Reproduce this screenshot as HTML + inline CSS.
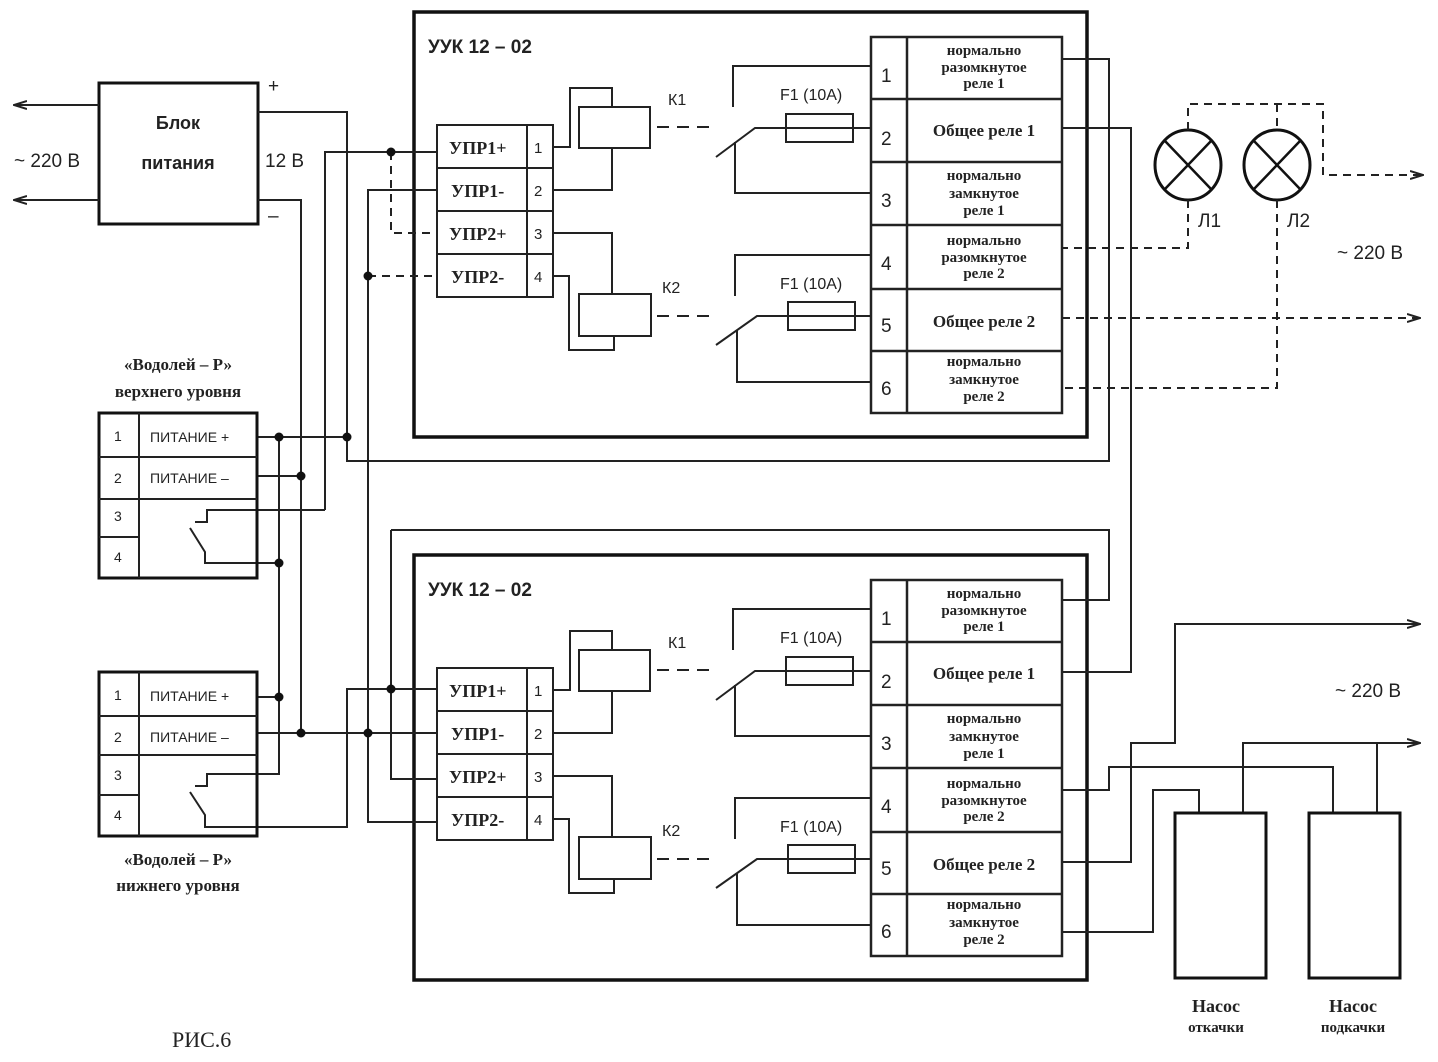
<!DOCTYPE html>
<html><head><meta charset="utf-8"><style>
html,body{margin:0;padding:0;background:#fff;}
svg{display:block;}
.s{font-family:"Liberation Sans","DejaVu Sans",sans-serif;}
.b{font-family:"Liberation Serif","DejaVu Serif",serif;font-weight:bold;}
</style></head><body>
<svg width="1438" height="1062" viewBox="0 0 1438 1062" xmlns="http://www.w3.org/2000/svg">
<defs>
<marker id="a" markerWidth="14" markerHeight="10" refX="13" refY="5" orient="auto" markerUnits="userSpaceOnUse"><path d="M0,1 L13,5 L0,9" fill="none" stroke="#222" stroke-width="2"/></marker>
<marker id="al" markerWidth="14" markerHeight="10" refX="1" refY="5" orient="auto" markerUnits="userSpaceOnUse"><path d="M14,1 L1,5 L14,9" fill="none" stroke="#222" stroke-width="2"/></marker>
<g id="unit">
<rect x="414" y="12" width="673" height="425" fill="none" stroke="#111" stroke-width="3.5"/>
<text x="428" y="53" class="s" font-size="19" font-weight="bold" fill="#222">УУК 12 – 02</text>
<rect x="437" y="125" width="116" height="172" fill="none" stroke="#222" stroke-width="2"/>
<path d="M437,168H553M437,211H553M437,254H553M527,125V297" stroke="#222" stroke-width="2"/>
<g class="b" font-size="18" fill="#222"><text x="449" y="154">УПР1+</text><text x="451" y="197">УПР1-</text><text x="449" y="240">УПР2+</text><text x="451" y="283">УПР2-</text></g>
<g class="s" font-size="15" fill="#222"><text x="534" y="153">1</text><text x="534" y="196">2</text><text x="534" y="239">3</text><text x="534" y="282">4</text></g>
<rect x="871" y="37" width="191" height="376" fill="none" stroke="#222" stroke-width="2.5"/>
<path d="M871,99H1062M871,162H1062M871,225H1062M871,289H1062M871,351H1062M907,37V413" stroke="#222" stroke-width="2.5"/>
<g class="s" font-size="19" fill="#222"><text x="881" y="82">1</text><text x="881" y="145">2</text><text x="881" y="207">3</text><text x="881" y="270">4</text><text x="881" y="332">5</text><text x="881" y="395">6</text></g>
<g class="b" font-size="15" fill="#222" text-anchor="middle">
<text x="984" y="55">нормально</text><text x="984" y="72">разомкнутое</text><text x="984" y="88">реле 1</text>
<text x="984" y="136" font-size="17">Общее реле 1</text>
<text x="984" y="180">нормально</text><text x="984" y="198">замкнутое</text><text x="984" y="215">реле 1</text>
<text x="984" y="245">нормально</text><text x="984" y="262">разомкнутое</text><text x="984" y="278">реле 2</text>
<text x="984" y="327" font-size="17">Общее реле 2</text>
<text x="984" y="366">нормально</text><text x="984" y="384">замкнутое</text><text x="984" y="401">реле 2</text>
</g>
<g fill="none" stroke="#222" stroke-width="2">
<path d="M553,147H570V88H612V107"/><rect x="579" y="107" width="71" height="41"/><path d="M612,148V190H553"/>
<path d="M657,127H716" stroke-dasharray="12,8"/>
<path d="M733,107V66H871"/><path d="M716,157L755,128H871"/><rect x="786" y="114" width="67" height="28"/><path d="M735,142V193H871"/>
<path d="M553,233H612V294"/><rect x="579" y="294" width="72" height="42"/><path d="M614,336V350H569V276H553"/>
<path d="M657,316H716" stroke-dasharray="12,8"/>
<path d="M735,296V255H871"/><path d="M716,345L757,316H871"/><rect x="788" y="302" width="67" height="28"/><path d="M737,330V382H871"/>
</g>
<g class="s" font-size="16" fill="#222"><text x="668" y="105">К1</text><text x="662" y="293">К2</text><text x="780" y="100">F1 (10A)</text><text x="780" y="289">F1 (10A)</text></g>
</g>
</defs>
<use href="#unit"/>
<use href="#unit" transform="translate(0,543)"/>

<!-- power block -->
<rect x="99" y="83" width="159" height="141" fill="none" stroke="#111" stroke-width="3"/>
<text x="178" y="129" class="s" font-size="18" font-weight="bold" text-anchor="middle" fill="#222">Блок</text>
<text x="178" y="169" class="s" font-size="18" font-weight="bold" text-anchor="middle" fill="#222">питания</text>
<g fill="none" stroke="#222" stroke-width="2">
<path d="M99,105H14" marker-end="url(#a)"/><path d="M99,200H14" marker-end="url(#a)"/>
</g>
<g class="s" font-size="19" fill="#222"><text x="14" y="167">~ 220 В</text><text x="265" y="167">12 В</text><text x="268" y="92">+</text><text x="268" y="222">–</text></g>

<!-- wires -->
<g fill="none" stroke="#222" stroke-width="2">
<path d="M258,112H347V461H1109V59H1062"/>
<path d="M258,200H301V733"/>
<path d="M325,510V152H437"/>
<path d="M391,152V233H437" stroke-dasharray="8,6"/>
<path d="M437,190H368V822H437"/>
<path d="M368,276H437" stroke-dasharray="8,6"/>
<path d="M257,437H347"/><path d="M257,476H301"/><path d="M279,437V697"/>
<path d="M325,510H207V522H195"/><path d="M190,528L205,552V563H279"/>
<path d="M257,697H279"/><path d="M257,733H437"/>
<path d="M279,697V774H207V786H195"/><path d="M190,792L205,815V827H347V689H437"/>
<path d="M391,530V779H437"/><path d="M391,530H1109V600H1062"/>
<path d="M1062,128H1131V672H1062"/>
<path d="M1062,862H1131V743H1175V624H1420" marker-end="url(#a)"/>
<path d="M1062,790H1109V767H1333V813"/>
<path d="M1062,932H1153V790H1199V813"/>
<path d="M1243,813V743H1420" marker-end="url(#a)"/><path d="M1377,743V813"/>
</g>
<g fill="#111"><circle cx="391" cy="152" r="4.5"/><circle cx="368" cy="276" r="4.5"/><circle cx="279" cy="437" r="4.5"/><circle cx="347" cy="437" r="4.5"/><circle cx="301" cy="476" r="4.5"/><circle cx="279" cy="563" r="4.5"/><circle cx="279" cy="697" r="4.5"/><circle cx="301" cy="733" r="4.5"/><circle cx="368" cy="733" r="4.5"/><circle cx="391" cy="689" r="4.5"/></g>

<!-- Vodoley upper -->
<rect x="99" y="413" width="158" height="165" fill="none" stroke="#111" stroke-width="3"/>
<path d="M99,457H257M99,499H257M99,537H139M139,413V578" stroke="#222" stroke-width="2"/>
<g class="s" font-size="14" fill="#222"><text x="114" y="441">1</text><text x="114" y="483">2</text><text x="114" y="521">3</text><text x="114" y="562">4</text><text x="150" y="442">ПИТАНИЕ +</text><text x="150" y="483">ПИТАНИЕ –</text></g>
<text x="178" y="370" class="b" font-size="17" text-anchor="middle" fill="#222">«Водолей – Р»</text>
<text x="178" y="397" class="b" font-size="17" text-anchor="middle" fill="#222">верхнего уровня</text>
<!-- Vodoley lower -->
<rect x="99" y="672" width="158" height="164" fill="none" stroke="#111" stroke-width="3"/>
<path d="M99,716H257M99,755H257M99,795H139M139,672V836" stroke="#222" stroke-width="2"/>
<g class="s" font-size="14" fill="#222"><text x="114" y="700">1</text><text x="114" y="742">2</text><text x="114" y="780">3</text><text x="114" y="820">4</text><text x="150" y="701">ПИТАНИЕ +</text><text x="150" y="742">ПИТАНИЕ –</text></g>
<text x="178" y="865" class="b" font-size="17" text-anchor="middle" fill="#222">«Водолей – Р»</text>
<text x="178" y="891" class="b" font-size="17" text-anchor="middle" fill="#222">нижнего уровня</text>

<!-- lamps -->
<g fill="none" stroke="#111" stroke-width="3">
<ellipse cx="1188" cy="165" rx="33" ry="35"/><ellipse cx="1277" cy="165" rx="33" ry="35"/>
<path d="M1165,141L1211,189M1211,141L1165,189M1254,141L1300,189M1300,141L1254,189" stroke-width="2.5"/>
</g>
<g fill="none" stroke="#222" stroke-width="2" stroke-dasharray="8,6">
<path d="M1188,130V104H1323V175H1423" marker-end="url(#a)"/><path d="M1277,104V130"/>
<path d="M1188,200V248H1062"/><path d="M1277,200V388H1062"/>
<path d="M1062,318H1420" marker-end="url(#a)"/>
</g>
<g class="s" font-size="19" fill="#222"><text x="1198" y="227">Л1</text><text x="1287" y="227">Л2</text><text x="1337" y="259">~ 220 В</text><text x="1335" y="697">~ 220 В</text></g>

<!-- pumps -->
<rect x="1175" y="813" width="91" height="165" fill="none" stroke="#111" stroke-width="3"/>
<rect x="1309" y="813" width="91" height="165" fill="none" stroke="#111" stroke-width="3"/>
<g class="b" fill="#222" text-anchor="middle"><text x="1216" y="1012" font-size="18">Насос</text><text x="1216" y="1032" font-size="15">откачки</text><text x="1353" y="1012" font-size="18">Насос</text><text x="1353" y="1032" font-size="15">подкачки</text></g>
<text x="172" y="1047" font-family="Liberation Serif,serif" font-size="22" fill="#222">РИС.6</text>
</svg>
</body></html>
